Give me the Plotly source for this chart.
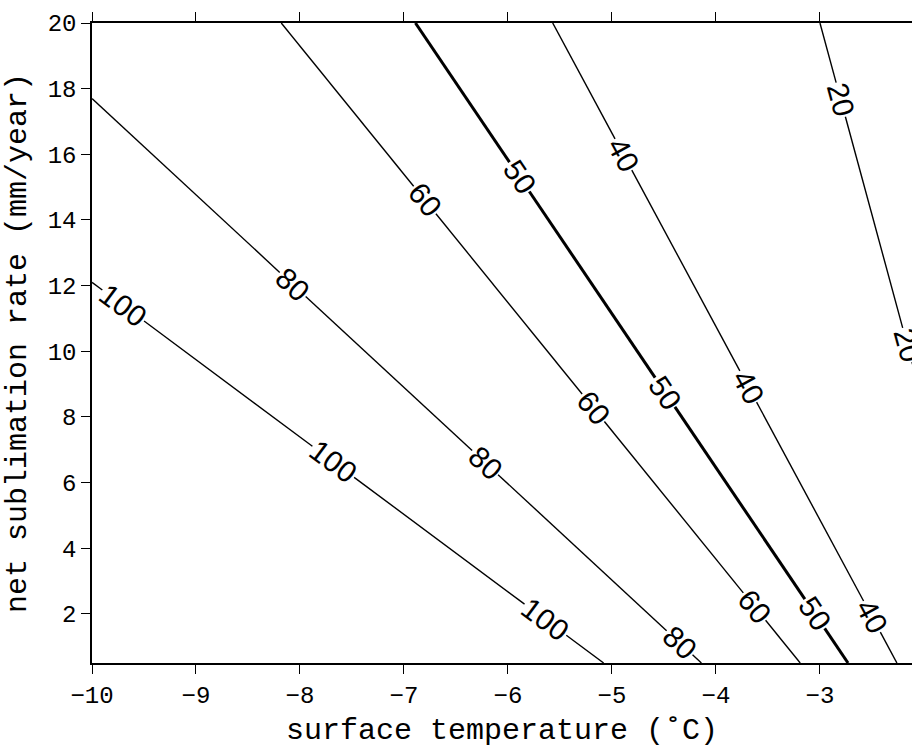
import numpy as np
import plotly.graph_objects as go

# ---- data ----
levels = [100, 80, 60, 50, 40, 20]
line_x = [[-10.0, -5.08], [-10.0, -4.14], [-8.18, -3.19], [-6.89, -2.73], [-5.57, -2.26], [-3.0, -1.33]]
line_y = [[12.10, 0.5], [17.70, 0.5], [20.0, 0.5], [20.0, 0.5], [20.0, 0.5], [20.0, 0.5]]
label_x = [[-9.70, -7.68, -5.64], [-8.07, -6.22, -4.35], [-6.80, -5.18, -3.63],
           [-5.89, -4.49, -3.05], [-4.89, -3.69, -2.50], [-2.80, -2.16]]
thick_level = 50
x_ticks = [-10, -9, -8, -7, -6, -5, -4, -3]
x_ticktext = ["\u221210", "\u22129", "\u22128", "\u22127", "\u22126", "\u22125", "\u22124", "\u22123"]
y_ticks = [2, 4, 6, 8, 10, 12, 14, 16, 18, 20]
x_range = [-10, -2.115]
y_range = [0.5, 20]

# ---- layout geometry ----
W_FIG, H_FIG = 912, 748
ML, MR, MT, MB = 92, 0, 23, 85
PW = W_FIG - ML - MR
PH = H_FIG - MT - MB
LABEL_SIZE = 30
CHAR_W = 0.556 * LABEL_SIZE


def to_px(x, y):
    px = ML + (np.asarray(x) - x_range[0]) / (x_range[1] - x_range[0]) * PW
    py = MT + (y_range[1] - np.asarray(y)) / (y_range[1] - y_range[0]) * PH
    return px, py


def to_data(px, py):
    x = x_range[0] + (np.asarray(px) - ML) / PW * (x_range[1] - x_range[0])
    y = y_range[1] - (np.asarray(py) - MT) / PH * (y_range[1] - y_range[0])
    return x, y


fig = go.Figure()
annotations = []

for lev, lx, ly, labs in zip(levels, line_x, line_y, label_x):
    lx = np.array(lx, float)
    ly = np.array(ly, float)
    px, py = to_px(lx, ly)
    seg = np.hypot(np.diff(px), np.diff(py))
    s = np.concatenate([[0], np.cumsum(seg)])
    gaps = []
    order = np.argsort(px)
    for xl in labs:
        yl = np.interp(xl, lx[np.argsort(lx)], ly[np.argsort(lx)])
        pxl, pyl = to_px(xl, yl)
        sl = np.interp(pxl, px[order], s[order])
        i = min(max(np.searchsorted(s, sl, side="right") - 1, 0), len(px) - 2)
        ang = np.degrees(np.arctan2(py[i + 1] - py[i], px[i + 1] - px[i]))
        half = len(str(lev)) * CHAR_W / 2 + 1
        gaps.append((sl - half, sl + half))
        annotations.append(dict(x=xl, y=yl, xref="x", yref="y", text=str(lev),
                                showarrow=False, textangle=ang,
                                xanchor="center", yanchor="middle",
                                font=dict(family="Liberation Sans, Arial", size=LABEL_SIZE, color="black")))
    gaps.sort()
    bounds = []
    start = 0.0
    for a, b in gaps:
        bounds.append((start, a))
        start = b
    bounds.append((start, s[-1]))
    xs, ys = [], []
    for a, b in bounds:
        if b <= a:
            continue
        ss = np.concatenate([[a], s[(s > a) & (s < b)], [b]])
        spx = np.interp(ss, s, px)
        spy = np.interp(ss, s, py)
        dx, dy = to_data(spx, spy)
        xs += list(dx) + [None]
        ys += list(dy) + [None]
    fig.add_trace(go.Scatter(x=xs, y=ys, mode="lines",
                             line=dict(color="black", width=3 if lev == thick_level else 1.4),
                             hoverinfo="skip", showlegend=False))

mono = "Liberation Mono, DejaVu Sans Mono, monospace"
fig.update_layout(
    width=W_FIG, height=H_FIG,
    margin=dict(l=ML, r=MR, t=MT, b=MB, autoexpand=False),
    paper_bgcolor="white", plot_bgcolor="white",
    annotations=annotations,
    showlegend=False,
    xaxis=dict(range=x_range, tickvals=x_ticks, ticktext=x_ticktext,
               showgrid=False, zeroline=False, showline=True, linecolor="black", linewidth=1.5,
               mirror="ticks", ticks="outside", ticklen=9, tickwidth=1, tickcolor="black",
               tickfont=dict(family=mono, size=24, color="black"),
               title=dict(text="surface temperature (\u02daC)", font=dict(family=mono, size=30, color="black"),
                          standoff=10)),
    yaxis=dict(range=y_range, tickvals=y_ticks,
               showgrid=False, zeroline=False, showline=True, linecolor="black", linewidth=1.5,
               mirror=False, ticks="outside", ticklen=9, tickwidth=1, tickcolor="black",
               tickfont=dict(family=mono, size=24, color="black"),
               title=dict(text="net sublimation rate (mm/year)", font=dict(family=mono, size=30, color="black"),
                          standoff=12)),
)

fig.write_html("out.html")
